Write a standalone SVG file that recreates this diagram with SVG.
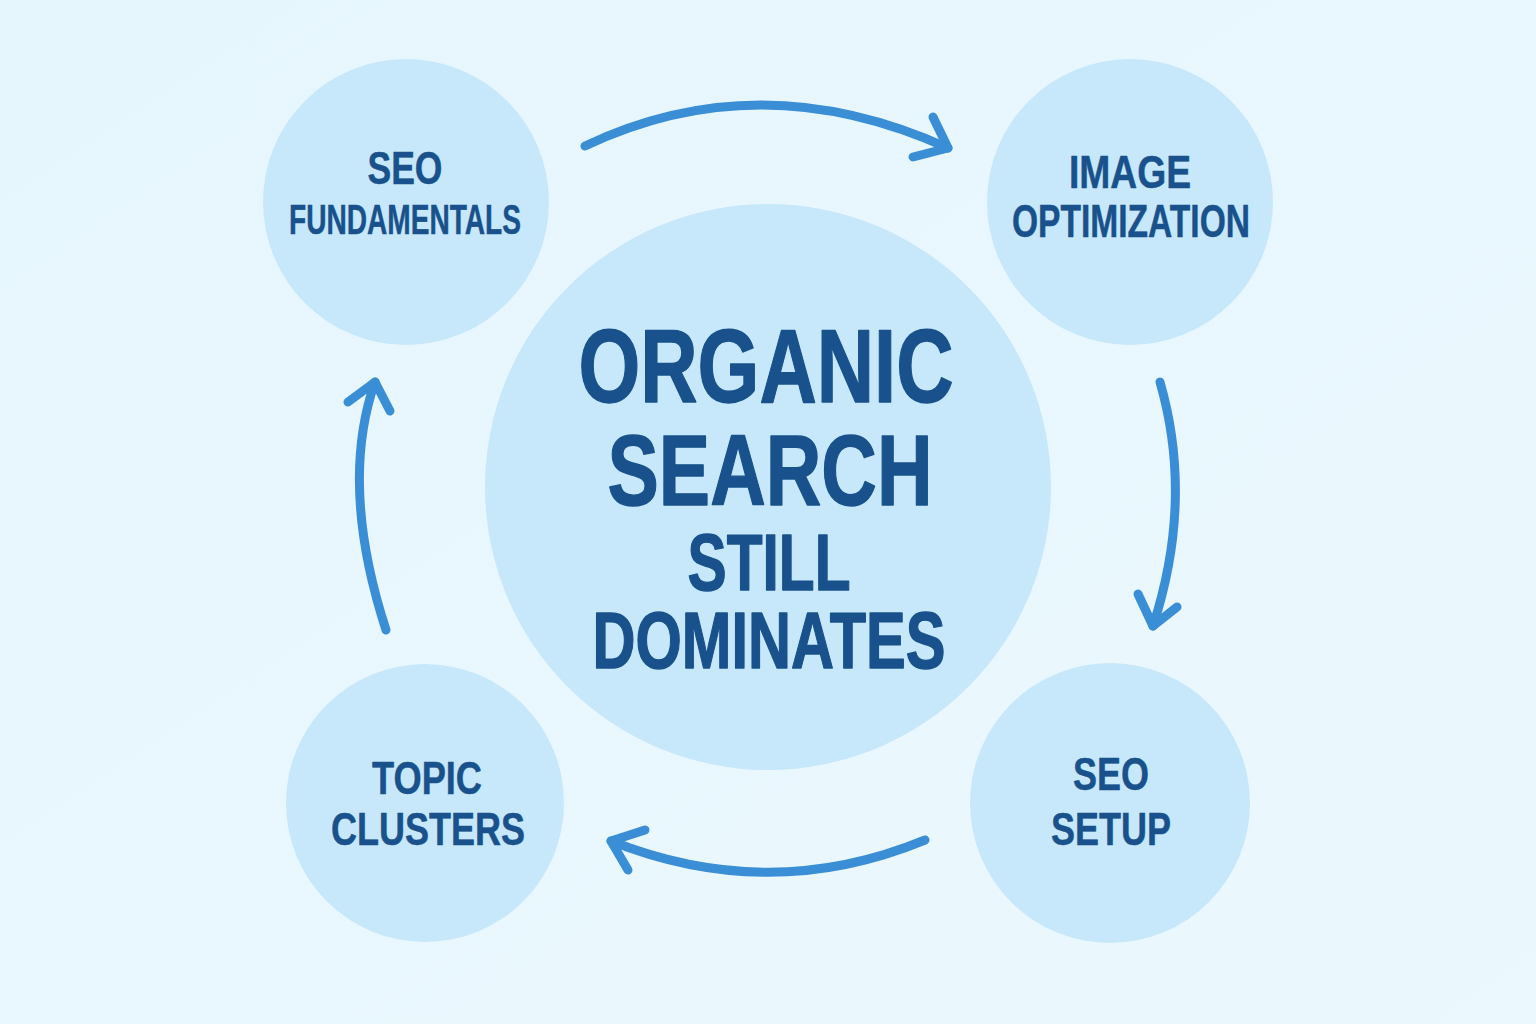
<svg xmlns="http://www.w3.org/2000/svg" width="1536" height="1024" viewBox="0 0 1536 1024">
  <defs>
    <linearGradient id="bg" x1="0" y1="0" x2="1" y2="1">
      <stop offset="0" stop-color="#e6f6fd"/>
      <stop offset="1" stop-color="#ebf8fe"/>
    </linearGradient>
    <style>
      .node { fill: #c7e8fa; }
      .lbl { font-family: "Liberation Sans", Arial, sans-serif; font-weight: bold; fill: #18518b; text-anchor: middle; stroke: #18518b; stroke-width: 1.4; stroke-linejoin: round; }
      .sm { stroke-width: 0.5; }
      .arrow { fill: none; stroke: #3a8ed6; stroke-width: 9; stroke-linecap: round; stroke-linejoin: round; }
    </style>
  </defs>
  <rect width="1536" height="1024" fill="url(#bg)"/>

  <g id="node-center">
    <circle class="node" cx="768" cy="487" r="283"/>
    <text class="lbl" x="766" y="402" font-size="104" textLength="375" lengthAdjust="spacingAndGlyphs">ORGANIC</text>
    <text class="lbl" x="770" y="505" font-size="101" textLength="325" lengthAdjust="spacingAndGlyphs">SEARCH</text>
    <text class="lbl" x="769" y="590" font-size="80" textLength="163" lengthAdjust="spacingAndGlyphs">STILL</text>
    <text class="lbl" x="769" y="668" font-size="80" textLength="353" lengthAdjust="spacingAndGlyphs">DOMINATES</text>
  </g>

  <g id="node-seo-fundamentals">
    <circle class="node" cx="406" cy="202" r="143"/>
    <text class="lbl sm" x="405" y="184" font-size="46" textLength="75" lengthAdjust="spacingAndGlyphs">SEO</text>
    <text class="lbl sm" x="405" y="234" font-size="43" textLength="232" lengthAdjust="spacingAndGlyphs">FUNDAMENTALS</text>
  </g>

  <g id="node-image-optimization">
    <circle class="node" cx="1130" cy="202" r="143"/>
    <text class="lbl sm" x="1130" y="188" font-size="46" textLength="122" lengthAdjust="spacingAndGlyphs">IMAGE</text>
    <text class="lbl sm" x="1131" y="237" font-size="46" textLength="238" lengthAdjust="spacingAndGlyphs">OPTIMIZATION</text>
  </g>

  <g id="node-seo-setup">
    <circle class="node" cx="1110" cy="803" r="140"/>
    <text class="lbl sm" x="1111" y="790" font-size="47" textLength="76" lengthAdjust="spacingAndGlyphs">SEO</text>
    <text class="lbl sm" x="1111" y="845" font-size="47" textLength="120" lengthAdjust="spacingAndGlyphs">SETUP</text>
  </g>

  <g id="node-topic-clusters">
    <circle class="node" cx="425" cy="803" r="139"/>
    <text class="lbl sm" x="427" y="794" font-size="46" textLength="110" lengthAdjust="spacingAndGlyphs">TOPIC</text>
    <text class="lbl sm" x="428" y="845" font-size="46" textLength="194" lengthAdjust="spacingAndGlyphs">CLUSTERS</text>
  </g>

  <g id="connectors">
    <path class="arrow" d="M585,146 Q760,63 948,148"/>
    <polyline class="arrow" points="933,117 948,148 913,157"/>

    <path class="arrow" d="M1160,382 Q1194,500 1153,626"/>
    <polyline class="arrow" points="1138,594 1153,626 1177,607"/>

    <path class="arrow" d="M925,840 Q770,904 611,841"/>
    <polyline class="arrow" points="645,830 611,841 628,870"/>

    <path class="arrow" d="M386,630 Q339,485 375,382"/>
    <polyline class="arrow" points="348,402 375,382 390,411"/>
  </g>
</svg>
